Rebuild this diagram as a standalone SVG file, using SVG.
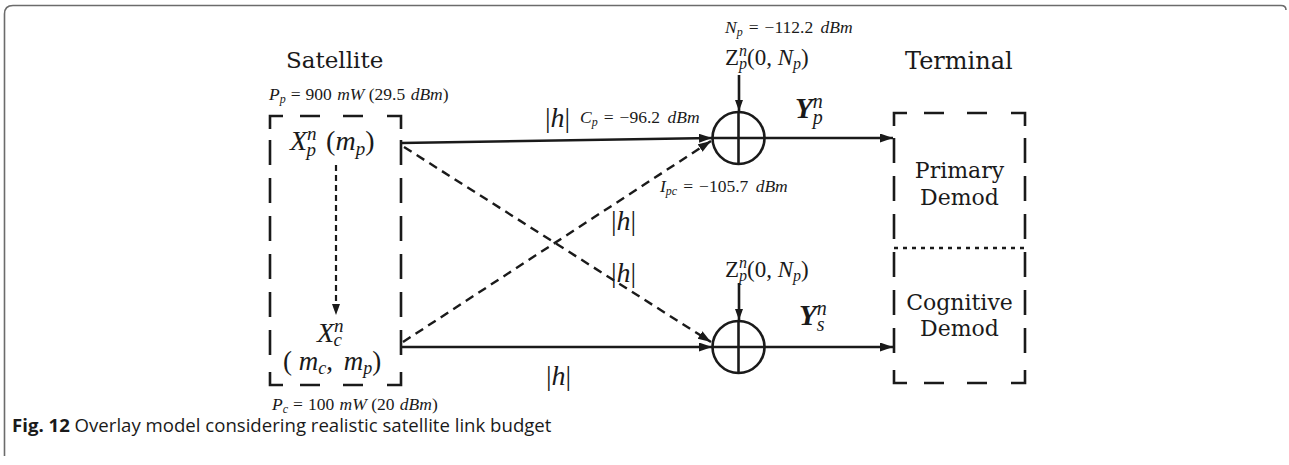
<svg xmlns="http://www.w3.org/2000/svg" width="1289" height="465" viewBox="0 0 1289 465">
<style>
.frame{fill:none;stroke:#6b6b6b;stroke-width:1.6}
.box{fill:none;stroke:#1a1a1a;stroke-width:2.6}
.ln{fill:none;stroke:#1a1a1a;stroke-width:2.6}
.dl{fill:none;stroke:#1a1a1a;stroke-width:2.4;stroke-dasharray:9 6}
.lbl{font-family:"DejaVu Serif",serif;fill:#1a1a1a}
.m{font-family:"Liberation Serif","Times New Roman",serif;fill:#1a1a1a}
.i{font-style:italic}
.u{font-style:normal}
.cap{font-family:"Open Sans","Liberation Sans",sans-serif;fill:#1a1a1a;font-size:18.6px}
</style>
<defs>
<marker id="ah" markerUnits="userSpaceOnUse" markerWidth="14" markerHeight="10" refX="13" refY="4.5" orient="auto">
<path d="M0,0 L13,4.5 L0,9 z" fill="#1a1a1a"/>
</marker>
<marker id="ahs" markerUnits="userSpaceOnUse" markerWidth="12" markerHeight="10" refX="11" refY="4" orient="auto">
<path d="M0,0 L11,4 L0,8 z" fill="#1a1a1a"/>
</marker>
</defs>

<path class="frame" d="M4.5,456 L4.5,14 Q4.5,5.5 13,5.5 L1281,5.5 Q1286,5.5 1286,10"/>

<g id="satellite">
<text class="lbl" x="286" y="68" font-size="23">Satellite</text>
<path class="box" d="M270,129 V116 H283 M300,116 H320 M343,116 H363 M387,116 H401 V129"/>
<path class="box" d="M270,372 V385 H283 M300,385 H320 M343,385 H363 M387,385 H401 V372"/>
<line class="box" x1="270" y1="140" x2="270" y2="362" stroke-dasharray="25 13"/>
<line class="box" x1="401" y1="140" x2="401" y2="362" stroke-dasharray="25 13"/>
<text class="m" x="269" y="100" font-size="17.5"><tspan class="i">P</tspan><tspan class="i" font-size="12" dy="3">p</tspan><tspan dy="-3" dx="5">=</tspan><tspan dx="5">900 </tspan><tspan class="i" dx="1">mW</tspan> (29.5 <tspan class="i" dx="1">dBm</tspan>)</text>
<text class="m" x="290" y="150" font-size="28"><tspan class="i">X</tspan><tspan class="i" font-size="19" dy="-10">n</tspan><tspan class="i" font-size="19" dx="-10" dy="16">p</tspan><tspan dy="-6" dx="10">(</tspan><tspan class="i">m</tspan><tspan class="i" font-size="19" dy="5">p</tspan><tspan dy="-5">)</tspan></text>
<text class="m" x="317" y="342" font-size="28"><tspan class="i">X</tspan><tspan class="i" font-size="19" dy="-10">n</tspan><tspan class="i" font-size="19" dx="-10" dy="14">c</tspan></text>
<text class="m" x="283" y="370" font-size="27"><tspan>( </tspan><tspan class="i">m</tspan><tspan class="i" font-size="18" dy="4">c</tspan><tspan dy="-4">, </tspan><tspan class="i" dx="4">m</tspan><tspan class="i" font-size="18" dy="4">p</tspan><tspan dy="-4">)</tspan></text>
<text class="m" x="272" y="410" font-size="17.5"><tspan class="i">P</tspan><tspan class="i" font-size="12" dy="3">c</tspan><tspan dy="-3" dx="5">=</tspan><tspan dx="5">100 </tspan><tspan class="i" dx="1">mW</tspan> (20 <tspan class="i" dx="1">dBm</tspan>)</text>
</g>

<g id="sum-primary">
<circle class="ln" cx="738.5" cy="138" r="26"/>
<line class="ln" x1="712.5" y1="138" x2="764.5" y2="138"/>
<line class="ln" x1="738.5" y1="112" x2="738.5" y2="164"/>
<text class="m" x="725" y="33" font-size="17.5"><tspan class="i">N</tspan><tspan class="i" font-size="12" dy="3">p</tspan><tspan dy="-3" dx="6">=</tspan><tspan dx="6">−112.2 </tspan><tspan class="i" dx="3">dBm</tspan></text>
<text class="m" x="725" y="65" font-size="23"><tspan>Z</tspan><tspan class="i" font-size="16" dy="-9">n</tspan><tspan class="i" font-size="16" dx="-8" dy="13">p</tspan><tspan dy="-4">(0, </tspan><tspan class="i">N</tspan><tspan class="i" font-size="16" dy="4">p</tspan><tspan dy="-4">)</tspan></text>
</g>

<g id="sum-cognitive">
<circle class="ln" cx="738.5" cy="347" r="26"/>
<line class="ln" x1="712.5" y1="347" x2="764.5" y2="347"/>
<line class="ln" x1="738.5" y1="321" x2="738.5" y2="373"/>
<text class="m" x="725" y="277" font-size="23"><tspan>Z</tspan><tspan class="i" font-size="16" dy="-9">n</tspan><tspan class="i" font-size="16" dx="-8" dy="13">p</tspan><tspan dy="-4">(0, </tspan><tspan class="i">N</tspan><tspan class="i" font-size="16" dy="4">p</tspan><tspan dy="-4">)</tspan></text>
</g>

<g id="terminal">
<text class="lbl" x="905" y="69" font-size="24">Terminal</text>
<path class="box" d="M894,126 V113 H907 M924,113 H944 M967,113 H987 M1011,113 H1025 V126"/>
<path class="box" d="M894,370 V383 H907 M924,383 H944 M967,383 H987 M1011,383 H1025 V370"/>
<line class="box" x1="894" y1="138" x2="894" y2="360" stroke-dasharray="25 13"/>
<line class="box" x1="1025" y1="138" x2="1025" y2="360" stroke-dasharray="25 13"/>
<line x1="894" y1="248" x2="1026" y2="248" stroke="#1a1a1a" stroke-width="2.4" stroke-dasharray="4 5"/>
<text class="lbl" x="959.5" y="178" font-size="22" text-anchor="middle">Primary</text>
<text class="lbl" x="959.5" y="205" font-size="22" text-anchor="middle">Demod</text>
<text class="lbl" x="959.5" y="310" font-size="22" text-anchor="middle">Cognitive</text>
<text class="lbl" x="959.5" y="336" font-size="22" text-anchor="middle">Demod</text>
</g>

<g id="connectors">
<line class="ln" x1="401" y1="143" x2="712" y2="138" marker-end="url(#ah)"/>
<line class="ln" x1="401" y1="347" x2="712" y2="347" marker-end="url(#ah)"/>
<line class="dl" x1="404" y1="147" x2="711" y2="342" marker-end="url(#ah)"/>
<line class="dl" x1="403" y1="342" x2="711" y2="141" marker-end="url(#ah)"/>
<line x1="336" y1="165" x2="336" y2="315" stroke="#1a1a1a" stroke-width="2.2" stroke-dasharray="6 4" marker-end="url(#ahs)"/>
<line class="ln" x1="739" y1="75" x2="739" y2="111" marker-end="url(#ahs)"/>
<line class="ln" x1="739" y1="283" x2="739" y2="320" marker-end="url(#ahs)"/>
<line class="ln" x1="765" y1="138" x2="893" y2="138" marker-end="url(#ah)"/>
<line class="ln" x1="765" y1="347" x2="893" y2="347" marker-end="url(#ah)"/>
<text class="m" x="545" y="127" font-size="28">|<tspan class="i">h</tspan>|</text>
<text class="m" x="580" y="123" font-size="17.5"><tspan class="i">C</tspan><tspan class="i" font-size="12" dy="3">p</tspan><tspan dy="-3" dx="6">=</tspan><tspan dx="6">−96.2 </tspan><tspan class="i" dx="3">dBm</tspan></text>
<text class="m" x="660" y="192" font-size="17.5"><tspan class="i">I</tspan><tspan class="i" font-size="12" dy="3">pc</tspan><tspan dy="-3" dx="6">=</tspan><tspan dx="6">−105.7 </tspan><tspan class="i" dx="3">dBm</tspan></text>
<text class="m" x="611" y="230" font-size="28">|<tspan class="i">h</tspan>|</text>
<text class="m" x="611" y="282" font-size="28">|<tspan class="i">h</tspan>|</text>
<text class="m" x="546" y="385" font-size="28">|<tspan class="i">h</tspan>|</text>
<text class="m i" x="795" y="118" font-size="29" font-weight="bold"><tspan>Y</tspan><tspan font-size="20" font-weight="normal" dy="-10">n</tspan><tspan font-size="20" font-weight="normal" dx="-10" dy="16">p</tspan></text>
<text class="m i" x="799" y="325" font-size="29" font-weight="bold"><tspan>Y</tspan><tspan font-size="20" font-weight="normal" dy="-10">n</tspan><tspan font-size="20" font-weight="normal" dx="-10" dy="16">s</tspan></text>
</g>

<text class="cap" x="12" y="432"><tspan font-weight="bold">Fig. 12</tspan> Overlay model considering realistic satellite link budget</text>
</svg>
